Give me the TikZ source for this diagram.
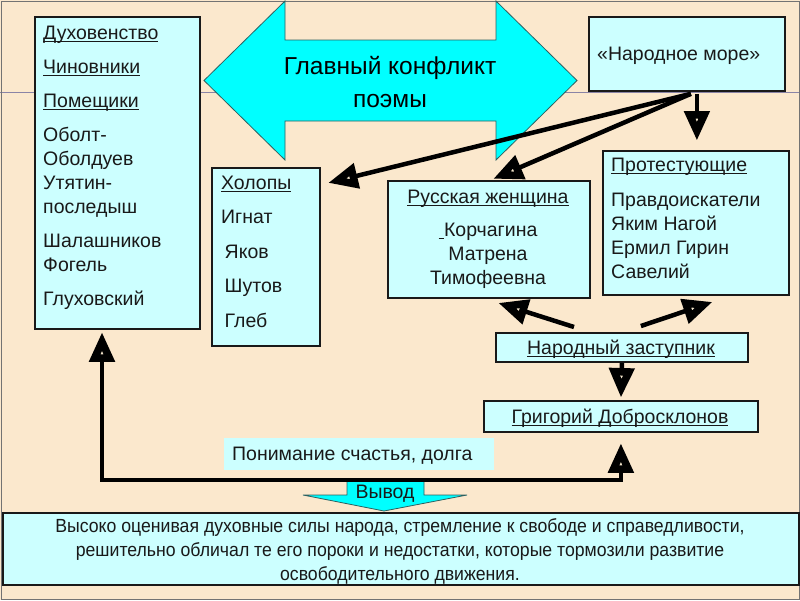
\documentclass[tikz,border=0pt]{standalone}
\usepackage{fontspec}
\setmainfont{Liberation Sans}
\newfontfamily\narrowfont[FakeStretch=0.93]{Liberation Sans}
\usetikzlibrary{arrows.meta,calc}
\definecolor{bg}{HTML}{FBE8CD}
\definecolor{boxfill}{HTML}{CCFFFF}
\definecolor{cyanfill}{HTML}{00FFFF}
\definecolor{tipfill}{HTML}{F4E6CC}
\definecolor{rulecol}{HTML}{8A84A6}
\definecolor{edgecol}{HTML}{2E6060}
\newcommand\ulin[1]{\setbox0\hbox{#1}\rlap{\rule[-3.2pt]{\wd0}{1.3pt}}\box0}
\newcommand\topfix[1]{\rule{0pt}{#1}}
\begin{document}
\begin{tikzpicture}[x=1pt,y=-1pt,
  box/.style={draw=black!90, line width=1.8pt, fill=boxfill, inner sep=0pt, anchor=north west},
  plainbox/.style={fill=boxfill, inner sep=0pt, anchor=north west},
  txt/.style={font=\fontsize{19.5}{24}\selectfont, inner sep=0pt, text=black!90},
  shapeedge/.style={fill=cyanfill, draw=edgecol, line width=0.8pt, line join=miter},
  conn/.style={line width=4.5pt, draw=black, -{Triangle[length=30pt,width=24pt,fill=tipfill,line width=8pt]}},
  conn2/.style={line width=4.5pt, draw=black, {Triangle[length=30pt,width=24pt,fill=tipfill,line width=8pt]}-{Triangle[length=30pt,width=24pt,fill=tipfill,line width=8pt]}},
]
\fill[bg] (0,0) rectangle (800,600);
\useasboundingbox (0,0) rectangle (800,600);
\draw[rulecol, line width=1pt] (0,92) -- (800,92);
\draw[black!55, line width=1pt] (1,1) rectangle (799,599);

% big double arrow
\draw[shapeedge] (204,80.5) -- (285,1) -- (285,40) -- (496,40) -- (496,1) -- (577,80.5)
  -- (496,160) -- (496,121) -- (285,121) -- (285,160) -- cycle;
\node[font=\fontsize{24.5}{33}\selectfont, align=center, anchor=north, inner sep=0pt] (conflict) at (390,56) {\topfix{18pt}Главный конфликт\\поэмы};

% boxes
\node[box, minimum width=165pt, minimum height=312pt] (lords) at (34,16) {};
\node[box, minimum width=108pt, minimum height=178pt] (holopy) at (211,167) {};
\node[box, minimum width=196pt, minimum height=74pt] (sea) at (588,16) {};
\node[box, minimum width=202pt, minimum height=117pt] (woman) at (387,180) {};
\node[box, minimum width=186pt, minimum height=144pt] (protest) at (602,150) {};
\node[box, minimum width=252pt, minimum height=29pt] (defender) at (495,332) {};
\node[box, minimum width=274pt, minimum height=31pt] (grisha) at (483,400) {};
\node[plainbox, minimum width=270pt, minimum height=32pt] (ponim) at (224,438) {};
\node[box, minimum width=796pt, minimum height=72pt] (bottom) at (2,512) {};

% Vyvod arrow
\draw[shapeedge] (347,480) -- (424,480) -- (424,495) -- (467,495) -- (384,511) -- (303,495) -- (347,495) -- cycle;

% connectors
\coordinate (seaOutA) at ($(sea.south)+(4,2)$);
\coordinate (seaOutB) at ($(sea.south)+(10,2)$);
\coordinate (holopyIn) at ($(holopy.north east)+(7,16)$);
\coordinate (womanIn) at ($(woman.north)+(4,-1)$);
\coordinate (protestIn) at ($(protest.north)+(1,-9)$);
\coordinate (defOutL) at ($(defender.north west)+(79,-5)$);
\coordinate (defOutR) at ($(defender.north)+(19,-6)$);
\coordinate (womanInB) at ($(woman.south)+(9,4)$);
\coordinate (protestInB) at ($(protest.south)+(17,6)$);
\coordinate (lordsIn) at ($(lords.south west)+(68,2)$);
\coordinate (grishaIn) at ($(grisha.south)+(0,10)$);

\draw[conn] (seaOutA) -- (holopyIn);
\draw[conn] (seaOutA) -- (womanIn);
\draw[conn] (seaOutB) -- (protestIn);
\draw[conn] (defOutL) -- (womanInB);
\draw[conn] (defOutR) -- (protestInB);
\draw[conn, shorten >=2pt] (defender.south) -- (grisha.north);
\draw[conn2] (lordsIn) -- ++(0,148) -| (grishaIn);

% texts
\node[txt, anchor=north west, align=left] (lordsT) at (43,24)
 {\topfix{15pt}\ulin{Духовенство}\\[10pt]\ulin{Чиновники}\\[10pt]\ulin{Помещики}\\[10pt]Оболт-\\Оболдуев\\Утятин-\\последыш\\[10pt]Шалашников\\Фогель\\[10pt]Глуховский};
\node[txt, anchor=north west, align=left] (holopyT) at (221,174)
 {\topfix{15pt}\ulin{Холопы}\\[10.5pt]Игнат\\[10.5pt]\hspace{3.5pt}Яков\\[10.5pt]\hspace{3.5pt}Шутов\\[10.5pt]\hspace{3.5pt}Глеб};
\node[txt, anchor=base west] (seaT) at (597,60) {«Народное море»};
\node[txt, anchor=north, align=center] (womanT) at (488,188)
 {\topfix{15pt}\ulin{Русская женщина}\\[9pt]\ulin{\ }Корчагина\\Матрена\\Тимофеевна};
\node[txt, anchor=north west, align=left] (protestT) at (611,156)
 {\topfix{15pt}\ulin{Протестующие}\\[11pt]Правдоискатели\\Яким Нагой\\Ермил Гирин\\Савелий};
\node[txt, anchor=base] (defenderT) at (621,354) {\ulin{Народный заступник}};
\node[txt, anchor=base] (grishaT) at (620,423) {\ulin{Григорий Добросклонов}};
\node[txt, anchor=base west] (ponimT) at (232,460) {Понимание счастья, долга};
\node[txt, anchor=base] (vyvodT) at (385,498) {Вывод};
\node[font=\narrowfont\fontsize{19}{24}\selectfont, align=center, anchor=north, inner sep=0pt, text=black!90] (bottomT) at (400,517)
 {\topfix{15pt}Высоко оценивая духовные силы народа, стремление к свободе и справедливости,\\решительно обличал те его пороки и недостатки, которые тормозили развитие\\освободительного движения.};
\end{tikzpicture}
\end{document}
